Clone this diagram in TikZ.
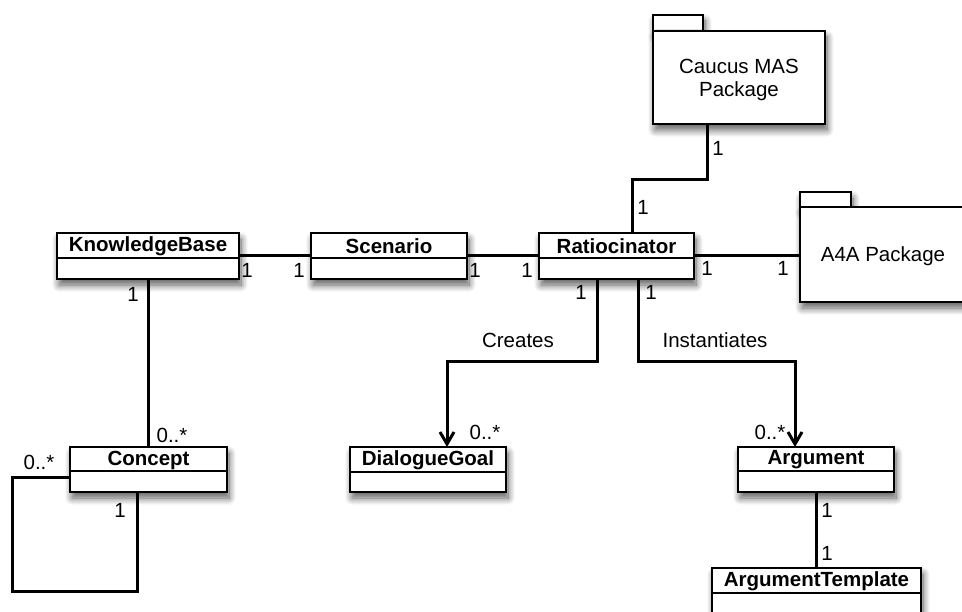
\documentclass[tikz,border=0pt]{standalone}
\usepackage{fontspec}
\setmainfont{Liberation Sans}
\usetikzlibrary{arrows.meta,shadows.blur}

\tikzset{
  box shadow/.style={blur shadow={shadow xshift=2pt,shadow yshift=-6pt,
      shadow blur radius=7pt,shadow blur steps=10,shadow opacity=65}},
  classbox/.style={draw=black,line width=1.8pt,fill=white,rectangle,
      inner sep=0pt,outer sep=0pt,anchor=north west,box shadow},
  pkgbox/.style={draw=black,line width=1.8pt,fill=white,rectangle,
      inner sep=0pt,outer sep=0pt,anchor=north west,box shadow},
  classname/.style={font=\fontsize{20.5}{24}\selectfont\bfseries,inner sep=0pt},
  conn/.style={line width=3pt},
  navarrow/.style={conn,-{Straight Barb[length=12pt,width=14pt]}},
  mult/.style={font=\fontsize{20.5}{24}\selectfont,inner sep=0pt},
}

% \umlclass{name}{x1}{y1}{x2}{y2}{divider y}{title}
\newcommand\umlclass[7]{%
  \node[classbox,minimum width={(#4-(#2))*1pt},minimum height={(#5-(#3))*1pt}]
    (#1) at (#2,#3) {};
  \draw[line width=1.6pt] (#2,#6) -- (#4,#6);
  \node[classname] (#1-title) at ({(#2+#4)/2},{(#3+#6)/2+1}) {#7};
}

% \umlpackage{name}{x1}{y1}{x2}{y2}{tab width}{tab height}{text}
\newcommand\umlpackage[8]{%
  \draw[line width=1.8pt,fill=white,box shadow] (#2,#3) rectangle ++(#6,-#7);
  \node[pkgbox,minimum width={(#4-(#2))*1pt},minimum height={(#5-(#3))*1pt}]
    (#1) at (#2,#3) {};
  \node[font=\fontsize{20.5}{23}\selectfont,align=center,inner sep=0pt]
    (#1-label) at ([yshift=-2pt]#1.center) {#8};
}

\begin{document}
\begin{tikzpicture}[x=1pt,y=-1pt]
  \path[use as bounding box,clip] (0,0) rectangle (962,612);

  % packages
  \umlpackage{caucus}{653}{31}{825}{124}{50}{16}{Caucus MAS\\[0pt]Package}
  \umlpackage{a4a}{800}{207}{966}{302}{51}{15}{A4A Package}

  % classes
  \umlclass{kb}{57}{233}{239}{279}{258}{KnowledgeBase}
  \umlclass{scen}{311}{233}{467}{279}{258}{Scenario}
  \umlclass{ratio}{539}{233}{694}{279}{258}{Ratiocinator}
  \umlclass{concept}{70}{447}{227}{492}{471}{Concept}
  \umlclass{dg}{350}{447}{506}{492}{472}{DialogueGoal}
  \umlclass{arg}{738}{447}{894}{492}{471}{Argument}
  \umlclass{tmpl}{712}{568}{921}{618}{593}{ArgumentTemplate}

  % associations
  \draw[conn] (kb.east) -- (scen.west);
  \draw[conn] (scen.east) -- (ratio.west);
  \draw[conn] (ratio.east) -- (ratio.east -| a4a.west);
  \draw[conn] ([xshift=-32pt]caucus.south) -- ++(0,56)
      -| ([xshift=15.5pt]ratio.north);
  \draw[conn] (kb.south) -- (kb.south |- concept.north);
  \draw[conn] (arg.south) -- (arg.south |- tmpl.north);

  % self association on Concept
  \coordinate (loopcorner) at (12,591);
  \draw[conn] ([yshift=-7.5pt]concept.west) -| (loopcorner)
      -| ([xshift=-11.5pt]concept.south);

  % directed associations
  \draw[navarrow] ([xshift=-19.5pt]ratio.south) -- ++(0,83)
      -| ([xshift=19pt]dg.north);
  \draw[navarrow] ([xshift=21.5pt]ratio.south) -- ++(0,83)
      -| ([xshift=-21pt]arg.north);

  % multiplicities and role names
  \node[mult] (m1) at (247,270) {1};
  \node[mult] (m2) at (299,270) {1};
  \node[mult] (m3) at (475,270) {1};
  \node[mult] (m4) at (527,270) {1};
  \node[mult] (m5) at (707,268) {1};
  \node[mult] (m6) at (783,268) {1};
  \node[mult] (m7) at (718,148) {1};
  \node[mult] (m8) at (643,207) {1};
  \node[mult] (m9) at (133,294) {1};
  \node[mult] (m10) at (581,292) {1};
  \node[mult] (m11) at (651,292) {1};
  \node[mult] (m12) at (172,435) {0..*};
  \node[mult] (m13) at (39,462) {0..*};
  \node[mult] (m14) at (120,510) {1};
  \node[mult] (m15) at (485,432) {0..*};
  \node[mult] (m16) at (770,432) {0..*};
  \node[mult] (m17) at (827,510) {1};
  \node[mult] (m18) at (827,553) {1};
  \node[mult] (creates) at (518,340) {Creates};
  \node[mult] (inst) at (715,340) {Instantiates};
\end{tikzpicture}
\end{document}
